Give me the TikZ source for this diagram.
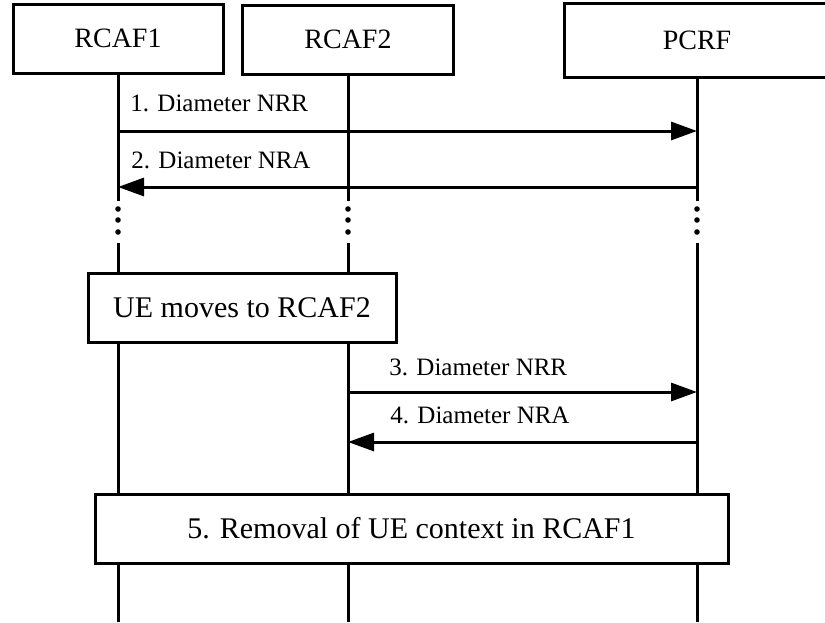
\documentclass[tikz,border=0pt]{standalone}
\usepackage{fontspec}
\setmainfont{Liberation Serif}
\usepackage{tikz}
\usetikzlibrary{arrows.meta, positioning}

\begin{document}
\begin{tikzpicture}[
        x=0.5pt, y=-0.5pt,
        entity/.style={rectangle, draw, line width=1.5pt, fill=white, minimum height=34.5pt, font=\fontsize{14pt}{16pt}\selectfont},
        procbox/.style={rectangle, draw, line width=1.5pt, fill=white, minimum height=34.5pt, font=\fontsize{15pt}{18pt}\selectfont},
        lifeline/.style={line width=1.5pt},
        msgline/.style={-{Triangle[length=13pt, width=9pt]}, line width=1.5pt},
        msglabel/.style={anchor=base west, inner sep=0pt, font=\fontsize{12.5pt}{15pt}\selectfont}
    ]
        \useasboundingbox (0,0) rectangle (825,622);
        \clip (0,0) rectangle (825,622);
        % entities
        \node[entity, minimum width=105pt] (rcafA) at (118,38.5) {RCAF1};
        \node[entity, minimum width=105.5pt] (rcafB) at (348,39.5) {RCAF2};
        % PCRF box runs off the right edge
        \node[entity, draw=none, minimum width=131pt, minimum height=35.5pt] (pcrf) at (697,40.5) {PCRF};
        \draw[line width=1.5pt] ([xshift=20pt]pcrf.north east) -- (pcrf.north west) -- (pcrf.south west) -- ([xshift=20pt]pcrf.south east);
        % lifelines
        \draw[lifeline] (rcafA.south) -- (rcafA.south |- 0,201);
        \draw[lifeline] (rcafB.south) -- (rcafB.south |- 0,201);
        \draw[lifeline] (pcrf.south) -- (pcrf.south |- 0,201);
        \foreach \ent in {rcafA, rcafB, pcrf} {
            \foreach \dy in {209, 220, 232}
                \fill (\ent.south |- 0,\dy) circle[radius=1.4pt];
            \draw[lifeline] (\ent.south |- 0,243) -- (\ent.south |- 0,622);
        }
        % messages
        \draw[msgline] (rcafA.south |- 0,131) -- (pcrf.south |- 0,131);
        \node[msglabel] (nrr1) at (130,111) {1. Diameter NRR};
        \draw[msgline] (pcrf.south |- 0,187) -- (rcafA.south |- 0,187);
        \node[msglabel] (nra2) at (131,168) {2. Diameter NRA};
        \node[procbox, minimum width=154pt] (move) at (242,307.5) {UE moves to RCAF2};
        \draw[msgline] (rcafB.south |- 0,392) -- (pcrf.south |- 0,392);
        \node[msglabel] (nrr3) at (389,375) {3. Diameter NRR};
        \draw[msgline] (pcrf.south |- 0,442) -- (rcafB.south |- 0,442);
        \node[msglabel] (nra4) at (390,423) {4. Diameter NRA};
        \node[procbox, minimum width=316.5pt] (removal) at (411.5,528.5) {5. Removal of UE context in RCAF1};
    \end{tikzpicture}
\end{document}
